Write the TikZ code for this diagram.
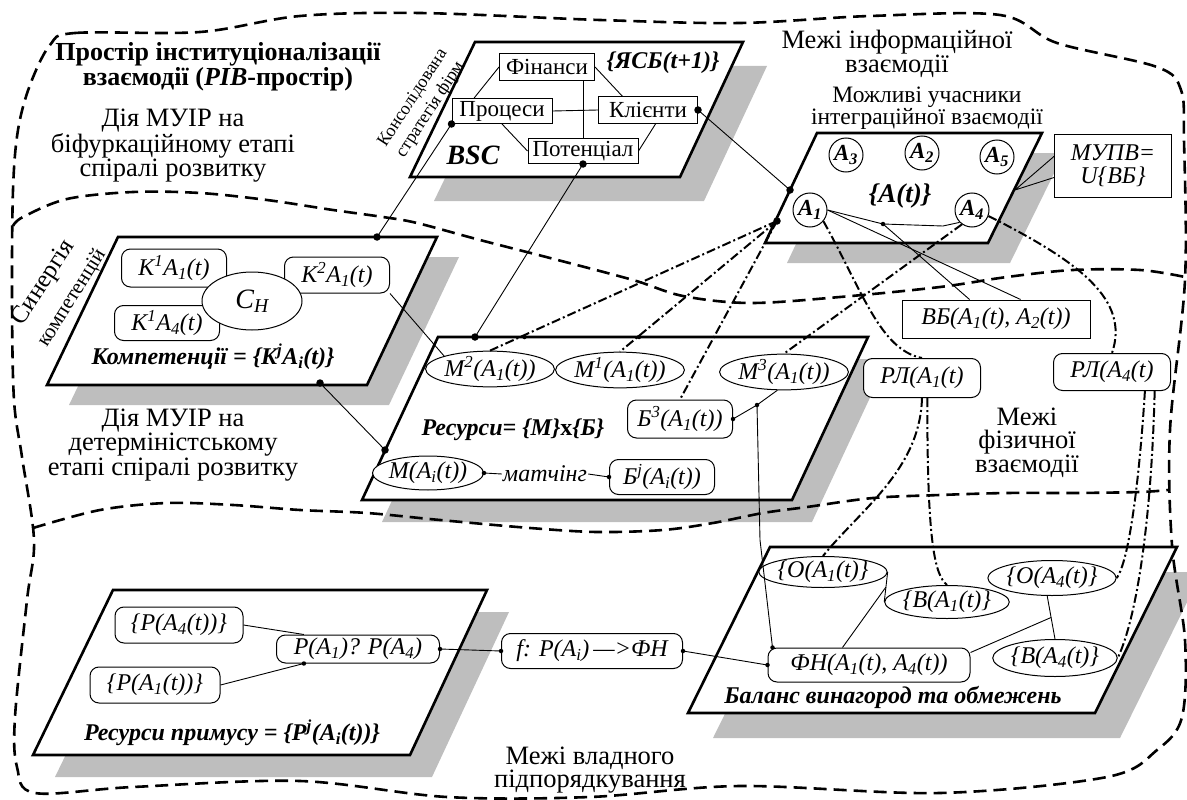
\documentclass[tikz,border=0pt]{standalone}
\usepackage{fontspec}
\setmainfont{Liberation Serif}
\usetikzlibrary{shapes.geometric,calc}
\definecolor{shd}{RGB}{190,190,190}
\newcommand\fntbody{\fontsize{26.5}{22.5}\selectfont}
\newcommand\fntsmall{\fontsize{23.5}{21}\selectfont}
\newcommand\fntlab{\fontsize{24}{24}\selectfont\itshape}
\newcommand\fntbx{\fontsize{23}{23}\selectfont}
\newcommand\fntttl{\fontsize{24}{24}\selectfont\bfseries\itshape}
\newcommand\fntcir{\fontsize{23}{23}\selectfont\bfseries\itshape}
\newcommand\sbs[1]{\textsubscript{#1}}
\newcommand\sps[1]{\textsuperscript{#1}}
\begin{document}
\begin{tikzpicture}[x=1pt,y=-1pt,
  plane/.style={draw,line width=2.6pt,fill=white,line join=miter},
  bound/.style={line width=2.6pt,dash pattern=on 13pt off 7pt},
  dd/.style={line width=2pt,dash pattern=on 9pt off 3pt on 2pt off 3pt},
  thin/.style={line width=0.9pt},
  sbox/.style={draw,line width=1pt,inner sep=0pt,fill=white,font=\fntbx},
  rbox/.style={draw,line width=1pt,rounded corners=9pt,inner sep=0pt,fill=white,font=\fntlab},
  ell/.style={ellipse,draw,line width=1pt,inner sep=0pt,fill=white,font=\fntlab},
  circ/.style={circle,draw,line width=1pt,minimum size=34pt,inner sep=0pt,font=\fntcir},
  txt/.style={align=center,font=\fntbody,inner sep=0pt},
  ttl/.style={font=\fntttl,inner sep=0pt},
  bdot/.style={circle,fill=black,inner sep=0pt,minimum size=7.5pt},
  sdot/.style={circle,fill=black,inner sep=0pt,minimum size=4.5pt}]
\useasboundingbox (0,0) rectangle (1187,800);

% ---------- shadows ----------
\fill[shd,shift={(24,24)}] (475,42) -- (743,42) -- (680,177) -- (410,177) -- cycle;
\fill[shd,shift={(22,20)}] (817,133) -- (1042,133) -- (988,243) -- (765,243) -- cycle;
\fill[shd,shift={(22,20)}] (118,237) -- (437,237) -- (367,385) -- (47,385) -- cycle;
\fill[shd,shift={(20,22)}] (438,337) -- (868,337) -- (792,500) -- (362,500) -- cycle;
\fill[shd,shift={(25,25)}] (770,547) -- (1177,547) -- (1095,713) -- (688,713) -- cycle;
\fill[shd,shift={(22,22)}] (113,590) -- (487,590) -- (410,755) -- (33,755) -- cycle;

% ---------- boundaries ----------
\draw[bound] plot[smooth cycle,tension=0.55] coordinates {
 (50,45) (75,33) (200,32) (300,16) (420,13) (600,20) (740,23) (870,16) (1000,15)
 (1057,43) (1157,67) (1181,90) (1184,140) (1185,280) (1170,430) (1172,545)
 (1185,640) (1182,717) (1157,750) (1107,777) (940,793) (740,786) (590,797)
 (447,797) (300,781) (133,787) (35,793) (17,767) (15,717) (27,600) (34,540)
 (22,457) (14,400) (12,300) (13,190) (18,130) (30,85)};
\draw[bound] plot[smooth,tension=0.55] coordinates {
 (13,226) (23,217) (67,199) (133,192) (200,193) (267,200) (333,210) (383,217)
 (417,223) (480,240) (550,258) (633,280) (683,296) (750,303) (840,297) (940,287)
 (1007,277) (1073,270) (1140,270) (1185,277)};
\draw[bound] plot[smooth,tension=0.55] coordinates {
 (33,528) (100,510) (167,503) (233,505) (300,510) (367,513) (440,520) (530,528)
 (597,532) (663,530) (713,523) (763,513) (807,507) (873,498) (940,495) (1007,493)
 (1073,493) (1140,492) (1168,490)};

% ---------- planes ----------
\draw[plane] (475,42) -- (743,42) -- (680,177) -- (410,177) -- cycle;
\draw[plane] (817,133) -- (1042,133) -- (988,243) -- (765,243) -- cycle;
\draw[plane] (118,237) -- (437,237) -- (367,385) -- (47,385) -- cycle;
\draw[plane] (438,337) -- (868,337) -- (792,500) -- (362,500) -- cycle;
\draw[plane] (770,547) -- (1177,547) -- (1095,713) -- (688,713) -- cycle;
\draw[plane] (113,590) -- (487,590) -- (410,755) -- (33,755) -- cycle;

% ---------- free texts ----------
\node[txt,font=\fontsize{26}{23}\selectfont\bfseries] (t1) at (218,67) {Простір інституціоналізації\\взаємодії (\textit{РІВ}-простір)};
\node[txt] (t2) at (173,146) {Дія МУІР на\\біфуркаційному етапі\\спіралі розвитку};
\node[txt] (t3) at (173,445) {Дія МУІР на\\детерміністському\\етапі спіралі розвитку};
\node[txt] (t4) at (897,54) {Межі інформаційної\\взаємодії};
\node[txt,font=\fntsmall] (t5) at (927,108) {Можливі учасники\\інтеграційної взаємодії};
\node[txt] (t6) at (1027,443) {Межі\\фізичної\\взаємодії};
\node[txt] (t7) at (590,770) {Межі владного\\підпорядкування};
\node[txt,rotate=57,font=\fontsize{18}{21}\selectfont] (t8) at (422,104) {Консолідована\\стратегія фірм};
\node[txt,rotate=57,font=\fontsize{25}{25}\selectfont] (t9) at (44,283) {Синергія};
\node[txt,rotate=58,font=\fontsize{21}{21}\selectfont] (t10) at (72,298) {компетенцій};

% ---------- BSC plane ----------
\node[sbox,minimum width=95,minimum height=27] (fin) at (547,67) {Фінанси};
\node[sbox,minimum width=100,minimum height=25] (proc) at (502,111) {Процеси};
\node[sbox,minimum width=99,minimum height=26] (kli) at (648,110) {Клієнти};
\node[sbox,minimum width=110,minimum height=25] (pot) at (583,151) {Потенціал};
\node[ttl] (ysb) at (663,63) {\{ЯСБ(t+1)\}};
\node[ttl,font=\fontsize{28}{28}\selectfont\bfseries\itshape] (bsc) at (473,155) {BSC};
\draw[thin] (pot.north |- fin.south) -- (pot.north);
\draw[thin] (proc.east) -- (kli.west);
\draw[thin] (fin.west) -- (proc.155);
\draw[thin] (fin.east) -- (kli.152);
\draw[thin] (proc.south) -- (pot.west);
\draw[thin] (kli.-60) -- (pot.east);

% ---------- A(t) plane ----------
\node[circ] (a3) at (846,155) {A\sbs{3}};
\node[circ] (a2) at (922,153) {A\sbs{2}};
\node[circ] (a5) at (997,157) {A\sbs{5}};
\node[circ] (a1) at (810,210) {A\sbs{1}};
\node[circ] (a4) at (972,210) {A\sbs{4}};
\node[ttl,font=\fontsize{27}{27}\selectfont\bfseries\itshape] (at) at (900,196) {\{A(t)\}};
\node[draw,line width=1pt,fill=white,minimum width=117,minimum height=63,inner sep=0pt,align=center,font=\fontsize{24}{23}\selectfont\itshape] (mupv) at (1113,166) {МУПВ=\\U\{ВБ\}};
\node[sbox,font=\fntlab,minimum width=188,minimum height=38] (vbb) at (996,319) {ВБ(A\sbs{1}(t), A\sbs{2}(t))};

% ---------- Competences plane ----------
\node[rbox,minimum width=105,minimum height=38] (k1a1) at (174,268) {K\sps{1}A\sbs{1}(t)};
\node[rbox,minimum width=105,minimum height=36] (k2a1) at (337,275) {K\sps{2}A\sbs{1}(t)};
\node[rbox,minimum width=105,minimum height=35] (k1a4) at (167,323) {K\sps{1}A\sbs{4}(t)};
\node[ell,minimum width=100,minimum height=58,font=\fontsize{28}{28}\selectfont\itshape] (ch) at (252,301) {C\sbs{H}};
\node[ttl] (kt) at (213,357) {Компетенції = \{K\sps{j}A\sbs{i}(t)\}};

% ---------- Resources plane ----------
\node[ell,minimum width=105,minimum height=32] (m2) at (490,369) {M\sps{2}(A\sbs{1}(t))};
\node[ell,minimum width=105,minimum height=34] (m1) at (620,370) {M\sps{1}(A\sbs{1}(t))};
\node[ell,minimum width=106,minimum height=32] (m3) at (784,372) {M\sps{3}(A\sbs{1}(t))};
\node[rbox,minimum width=105,minimum height=38] (b3) at (680,419) {Б\sps{3}(A\sbs{1}(t))};
\node[ttl] (rt) at (513,430) {Ресурси= \{M\}\textup{x}\{Б\}};
\node[ell,minimum width=100,minimum height=34] (mai) at (428,473) {M(A\sbs{i}(t))};
\node[font=\fntlab,inner sep=1pt] (mt) at (545,474) {матчінг};
\node[rbox,minimum width=105,minimum height=35] (bj) at (662,477) {Б\sps{j}(A\sbs{i}(t))};
\node[rbox,minimum width=117,minimum height=39] (rl1) at (922,378) {РЛ(A\sbs{1}(t)};
\node[rbox,minimum width=117,minimum height=37] (rl4) at (1112,372) {РЛ(A\sbs{4}(t)};

% ---------- Balance plane ----------
\node[ell,minimum width=104,minimum height=31] (oa1) at (823,572) {\{O(A\sbs{1}(t)\}};
\node[ell,minimum width=106,minimum height=33] (ba1) at (947,602) {\{B(A\sbs{1}(t)\}};
\node[ell,minimum width=106,minimum height=35] (oa4) at (1052,578) {\{O(A\sbs{4}(t)\}};
\node[ell,minimum width=104,minimum height=37] (ba4) at (1055,658) {\{B(A\sbs{4}(t)\}};
\node[rbox,minimum width=202,minimum height=34] (fn) at (869,665) {ФН(A\sbs{1}(t), A\sbs{4}(t))};
\node[ttl] (bt) at (893,697) {Баланс винагород та обмежень};

% ---------- Coercion plane ----------
\node[rbox,minimum width=128,minimum height=36] (pa4) at (179,625) {\{P(A\sbs{4}(t))\}};
\node[rbox,minimum width=130,minimum height=36] (pa1) at (155,685) {\{P(A\sbs{1}(t))\}};
\node[rbox,minimum width=163,minimum height=28] (pq) at (358,649) {P(A\sbs{1})? P(A\sbs{4})};
\node[ttl] (pt) at (232,733) {Ресурси примусу = \{P\sps{j}(A\sbs{i}(t))\}};
\node[rbox,minimum width=181,minimum height=35] (f) at (592,651) {f: P(A\sbs{i})\,—>ФН};

% ---------- coordinates ----------
\coordinate (ktop) at (377,237);
\coordinate (kdot) at (320,383);
\coordinate (rdot) at (475,337);
\coordinate (rldot) at (385,450);
\coordinate (adot) at (790,190);
\coordinate (fan) at (777,221);
\coordinate (jA) at (883,224);
\coordinate (jA2) at (943,226);
\coordinate (jb) at (757,405);
\coordinate (jv) at (760,540);
\coordinate (cal) at (1015,190);
\coordinate (x1) at (524.5,337);
\coordinate (x2) at (639,337);
\coordinate (mupvA) at ($(mupv.north west)!0.35!(mupv.south west)$);
\coordinate (mupvB) at ($(mupv.north west)!0.68!(mupv.south west)$);
\coordinate (fnA) at ($(fn.north west)+(5,0)$);
\coordinate (fnB) at ($(fn.north west)+(75,0)$);
\coordinate (fnC) at ($(fn.north east)+(0,5)$);

% ---------- thin connectors ----------
\draw[thin] (proc.south west) -- (ktop);
\draw[thin] (pot.south) -- (rdot);
\draw[thin] (kli.east) -- (adot);
\draw[thin] (kdot) -- (rldot);
\draw[thin] (k2a1.south east) -- (m2.north west);
\draw[thin] (mupvA) -- (cal) -- (mupvB);
\draw[thin] (a1.east) -- (jA) -- (jA2) -- (a4.225);
\draw[thin] (jA) -- ($(vbb.north west)!0.36!(vbb.north east)$);
\draw[thin] (a1.east) -- ($(vbb.north west)!0.63!(vbb.north east)$);
\draw[thin] (b3.east) -- (jb) -- (m3.250);
\draw[thin] (jb) -- (jv) -- (fnA);
\draw[thin] (mai.east) -- (mt.west);
\draw[thin] (mt.east) -- (bj.west);
\draw[thin] (pa4.east) -- (pq.165);
\draw[thin] (pa1.east) -- (pq.195);
\draw[thin] (pq.east) -- (f.west);
\draw[thin] (f.east) -- (fn.west);
\draw[thin] (oa1.east) -- (ba1.west);
\draw[thin] (fnB) -- ($(oa1.east)!0.5!(ba1.west)$);
\draw[thin] (oa4.255) -- (ba4.north);
\draw[thin] (fnC) -- ($(oa4.255)!0.5!(ba4.north)$);

% ---------- dash-dot connectors ----------
\draw[dd] (fan) -- (m2.north);
\draw[dd] (fan) -- (m1.north);
\draw[dd] (fan) -- (b3.north);
\draw[dd] (a4.235) -- (m3.north);
\draw[dd] (a1.-40) .. controls (862,290) and (880,350) .. (rl1.north);
\draw[dd] (a4.-20) .. controls (1080,262) and (1130,300) .. (rl4.north);
\draw[dd] (rl1.south) .. controls (920,470) and (860,510) .. (oa1.north);
\draw[dd] (rl1.-75) .. controls (927,545) and (935,575) .. (ba1.north);
\draw[dd] (rl4.-30) .. controls (1140,470) and (1130,560) .. (oa4.east);
\draw[dd] (rl4.-24) .. controls (1152,500) and (1140,610) .. (ba4.east);

% ---------- dots ----------
\node[bdot] at (proc.south west) {};
\node[bdot] at (pot.south) {};
\node[bdot] at (kli.east) {};
\node[bdot] at (adot) {};
\node[bdot] at (fan) {};
\node[bdot] at (ktop) {};
\node[bdot] at (kdot) {};
\node[bdot] at (rdot) {};
\node[bdot] at (rldot) {};
\node[sdot] at (x1) {};
\node[sdot] at (x2) {};
\node[sdot] at (jA) {};
\node[sdot] at (jb) {};
\node[sdot] at (b3.east) {};
\node[sdot] at (mai.east) {};
\node[sdot] at (bj.west) {};
\node[sdot] at (pq.east) {};
\node[sdot] at (pq.195) {};
\node[sdot] at (f.west) {};
\node[sdot] at (f.east) {};
\node[sdot] at (fn.west) {};
\node[sdot] at (fnA) {};
\end{tikzpicture}
\end{document}
